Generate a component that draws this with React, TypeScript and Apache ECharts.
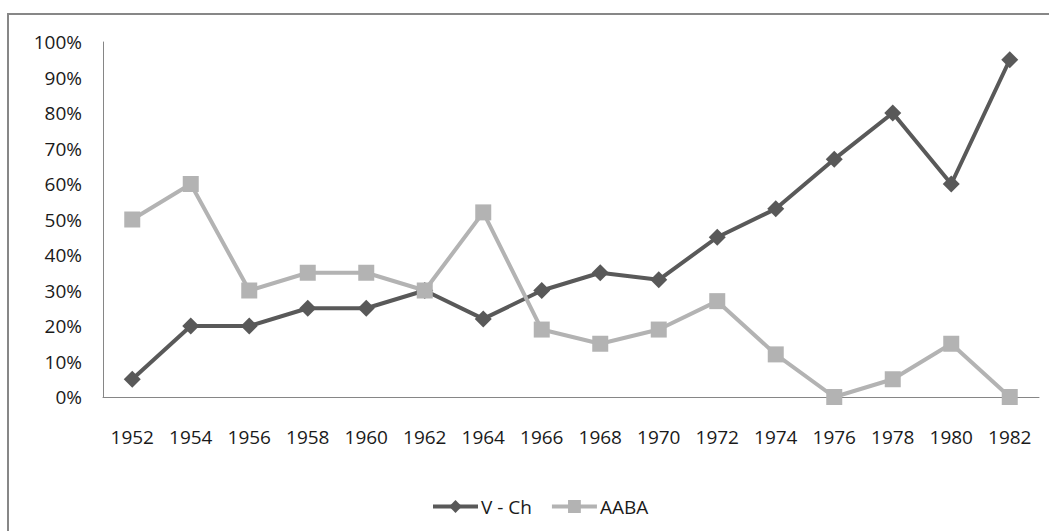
import React, { useEffect, useRef } from "react";
import * as echarts from "echarts";

const years = ["1952", "1954", "1956", "1958", "1960", "1962", "1964", "1966", "1968", "1970", "1972", "1974", "1976", "1978", "1980", "1982"];
const vch = [5, 20, 20, 25, 25, 30, 22, 30, 35, 33, 45, 53, 67, 80, 60, 95];
const aaba = [50, 60, 30, 35, 35, 30, 52, 19, 15, 19, 27, 12, 0, 5, 15, 0];

const FONT = "'Open Sans', sans-serif";

export default function App() {
  const ref = useRef<HTMLDivElement>(null);
  useEffect(() => {
    if (!ref.current) return;
    const chart = echarts.init(ref.current, undefined, { renderer: "svg" });
    chart.setOption({
      animation: false,
      backgroundColor: "#ffffff",
      textStyle: { fontFamily: FONT },
      grid: { left: 103, right: 10, top: 42, bottom: 134, containLabel: false },
      graphic: [
        { type: "line", shape: { x1: 7, y1: 14, x2: 1049, y2: 14 }, style: { stroke: "#878787", lineWidth: 2 } },
        { type: "line", shape: { x1: 8, y1: 13, x2: 8, y2: 531 }, style: { stroke: "#878787", lineWidth: 2 } },
      ],
      legend: {
        left: 426,
        top: 492,
        itemWidth: 45,
        itemHeight: 16,
        itemGap: 18,
        lineStyle: { width: 4 },
        textStyle: { fontFamily: FONT, fontSize: 19, color: "#1a1a1a", padding: [0, 0, 0, -2] },
        data: ["V - Ch", "AABA"],
      },
      xAxis: {
        type: "category",
        data: years,
        boundaryGap: true,
        axisLine: { lineStyle: { color: "#868686", width: 1 } },
        axisTick: { show: false },
        axisLabel: { fontFamily: FONT, fontSize: 19, color: "#1a1a1a", margin: 30, interval: 0 },
      },
      yAxis: {
        type: "value",
        min: 0,
        max: 100,
        interval: 10,
        splitLine: { show: false },
        axisLine: { show: true, lineStyle: { color: "#868686", width: 1 } },
        axisTick: { show: false },
        axisLabel: { fontFamily: FONT, fontSize: 19, color: "#1a1a1a", margin: 21, formatter: "{value}%" },
      },
      series: [
        {
          name: "V - Ch",
          type: "line",
          data: vch,
          symbol: "diamond",
          symbolSize: 17,
          lineStyle: { color: "#595959", width: 4 },
          itemStyle: { color: "#595959" },
          z: 2,
        },
        {
          name: "AABA",
          type: "line",
          data: aaba,
          symbol: "rect",
          symbolSize: 16,
          lineStyle: { color: "#b3b3b3", width: 4 },
          itemStyle: { color: "#b3b3b3" },
          z: 3,
        },
      ],
    });
    return () => chart.dispose();
  }, []);
  return <div ref={ref} style={{ position: "absolute", left: 0, top: 0, width: 1049, height: 531 }} />;
}
